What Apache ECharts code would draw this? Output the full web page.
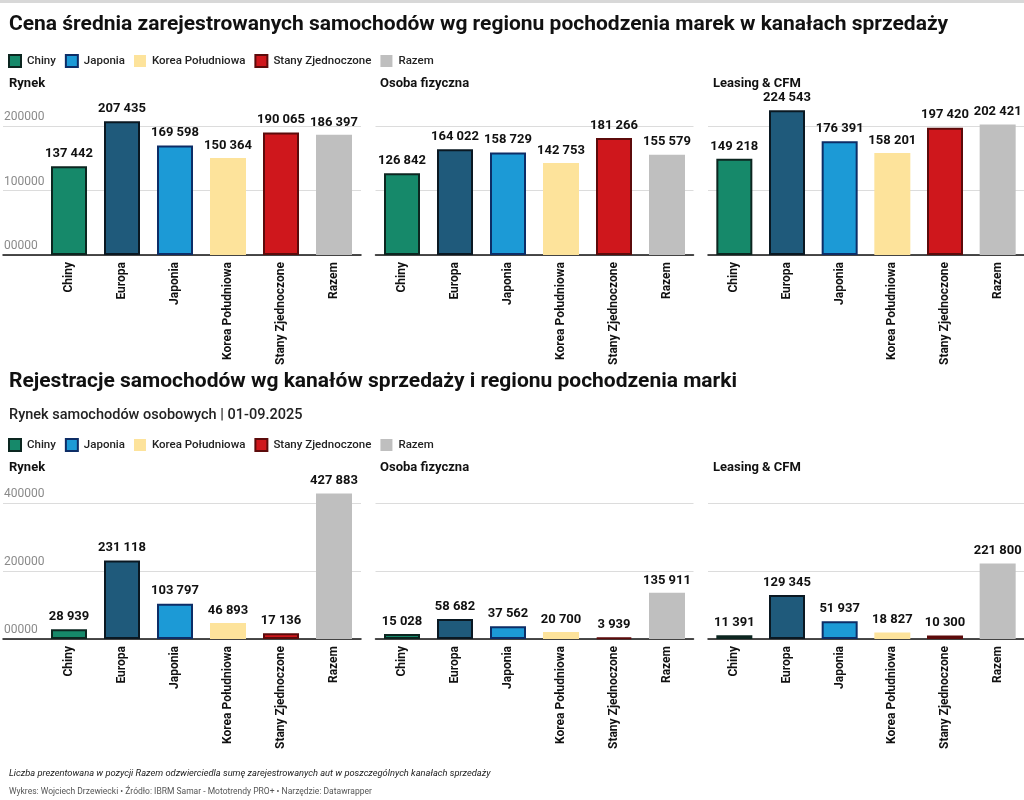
<!DOCTYPE html>
<html>
<head>
<meta charset="utf-8">
<script src="https://cdn.jsdelivr.net/npm/echarts@6/dist/echarts.min.js"></script>
<style>
  html, body { margin: 0; padding: 0; background: #fff; }
  #chart { width: 1024px; height: 800px; }
</style>
</head>
<body>
<div id="chart"></div>
<script>
// kategorie (regiony pochodzenia marek)
const regions = ["Chiny", "Europa", "Japonia", "Korea Południowa", "Stany Zjednoczone", "Razem"];
const legendNames = ["Chiny", "Japonia", "Korea Południowa", "Stany Zjednoczone", "Razem"];

// cena średnia
const cenaRynek = [137442, 207435, 169598, 150364, 190065, 186397];
const cenaOsoba = [126842, 164022, 158729, 142753, 181266, 155579];
const cenaLeasing = [149218, 224543, 176391, 158201, 197420, 202421];

// rejestracje
const rejRynek = [28939, 231118, 103797, 46893, 17136, 427883];
const rejOsoba = [15028, 58682, 37562, 20700, 3939, 135911];
const rejLeasing = [11391, 129345, 51937, 18827, 10300, 221800];

const cenaTicks = [0, 100000, 200000];
const rejTicks = [0, 200000, 400000];
const panelNames = ["Rynek", "Osoba fizyczna", "Leasing & CFM"];

const fills = ["#16896a", "#1f5a7b", "#1c9ad6", "#fde39b", "#cf171c", "#bfbfbf"];
const borders = ["#0c2620", "#0a1822", "#0d2d66", null, "#5c0b0b", null];

const FONT = "Roboto";
const fmt = (v) => String(v).replace(/\B(?=(\d{3})+(?!\d))/g, " ");

const chart = echarts.init(document.getElementById("chart"));

const grids = [];
const xAxes = [];
const yAxes = [];
const series = [];

const panelLeft = [42.5, 375.5, 708];
const panelWidth = 318;

function addSection(top, height, ticks, datasets) {
  const yMax = ticks[ticks.length - 1];
  const step = ticks[1] - ticks[0];
  datasets.forEach((vals, p) => {
    // lewy panel ma dodatkowa siatke pod etykiety osi Y
    if (p === 0) {
      grids.push({ left: 3, top: top, width: 358, height: height });
      const gi = grids.length - 1;
      xAxes.push({
        gridIndex: gi, type: "value", min: 0, max: 1,
        axisLabel: { show: false }, axisTick: { show: false }, splitLine: { show: false },
        axisLine: { show: true, lineStyle: { color: "#111", width: 1.5 } },
      });
      yAxes.push({
        gridIndex: gi, type: "value", min: 0, max: yMax, interval: step,
        axisLine: { show: false }, axisTick: { show: false },
        splitLine: { show: true, lineStyle: { color: "#dcdcdc", width: 1 } },
        axisLabel: {
          inside: true, verticalAlign: "bottom", margin: 1, padding: [0, 0, 3, 0],
          color: "#8a8a8a", fontSize: 12, fontFamily: FONT,
          formatter: (v) => (v === 0 ? "00000" : String(v)),
        },
      });
    }
    grids.push({ left: panelLeft[p], top: top, width: panelWidth, height: height });
    const gi = grids.length - 1;
    xAxes.push({
      gridIndex: gi, type: "category", data: regions,
      axisLine: { show: p !== 0, lineStyle: { color: "#111", width: 1.5 } },
      axisTick: { show: false },
      axisLabel: {
        rotate: 90, interval: 0, margin: 7, color: "#111",
        fontSize: 12, fontWeight: "bold", fontFamily: FONT,
      },
    });
    yAxes.push({
      gridIndex: gi, type: "value", min: 0, max: yMax, interval: step,
      axisLine: { show: false }, axisTick: { show: false }, axisLabel: { show: false },
      splitLine: { show: p !== 0, lineStyle: { color: "#dcdcdc", width: 1 } },
    });
    const ai = xAxes.length - 1;
    regions.forEach((name, i) => {
      series.push({
        type: "bar", name: name,
        xAxisIndex: ai, yAxisIndex: ai,
        data: regions.map((_, j) => (j === i ? vals[i] : "-")),
        barWidth: 36, barGap: "-100%", clip: false,
        itemStyle: {
          color: fills[i],
          borderColor: borders[i] || fills[i],
          borderWidth: borders[i] ? 2 : 0,
        },
        label: {
          show: true, position: "top", distance: 6,
          color: "#111", fontSize: 13, fontWeight: "bold", fontFamily: FONT,
          formatter: (prm) => fmt(prm.value),
        },
        emphasis: { disabled: true },
      });
    });
  });
}

addSection(126, 129, cenaTicks, [cenaRynek, cenaOsoba, cenaLeasing]);
addSection(503, 136, rejTicks, [rejRynek, rejOsoba, rejLeasing]);

const titleStyle = { fontFamily: FONT, fontWeight: "bold", color: "#111" };
const titles = [
  { text: "Cena średnia zarejestrowanych samochodów wg regionu pochodzenia marek w kanałach sprzedaży",
    left: 4, top: 9, textStyle: { ...titleStyle, fontSize: 21 } },
  { text: "Rejestracje samochodów wg kanałów sprzedaży i regionu pochodzenia marki",
    left: 4, top: 366, textStyle: { ...titleStyle, fontSize: 21 } },
  { text: "Rynek samochodów osobowych | 01-09.2025",
    left: 4, top: 403, textStyle: { fontFamily: FONT, fontWeight: 500, fontSize: 14.5, color: "#222" } },
  { text: "Liczba prezentowana w pozycji Razem odzwierciedla sumę zarejestrowanych aut w poszczególnych kanałach sprzedaży",
    left: 4, top: 764, textStyle: { fontFamily: FONT, fontStyle: "italic", fontWeight: "normal", fontSize: 9.3, color: "#222" } },
  { text: "Wykres: Wojciech Drzewiecki • Źródło: IBRM Samar - Mototrendy PRO+ • Narzędzie: Datawrapper",
    left: 4, top: 782, textStyle: { fontFamily: FONT, fontWeight: "normal", fontSize: 8.5, color: "#555" } },
];
[72, 456].forEach((t) => {
  panelNames.forEach((n, p) => {
    titles.push({ text: n, left: [4, 375, 708][p], top: t, textStyle: { ...titleStyle, fontSize: 13 } });
  });
});

const legendBase = {
  data: legendNames, left: 3, icon: "rect", itemWidth: 12, itemHeight: 12, itemGap: 9,
  selectedMode: false,
  textStyle: { fontFamily: FONT, fontSize: 11.5, fontWeight: 500, color: "#222", padding: [0, 0, 0, 1] },
};

chart.setOption({
  backgroundColor: "#fff",
  animation: false,
  title: titles,
  legend: [{ ...legendBase, top: 49 }, { ...legendBase, top: 433 }],
  graphic: [{ type: "rect", shape: { x: 0, y: 0, width: 1024, height: 3 }, style: { fill: "#d8d8d8" } }],
  grid: grids,
  xAxis: xAxes,
  yAxis: yAxes,
  series: series,
});
</script>
</body>
</html>
